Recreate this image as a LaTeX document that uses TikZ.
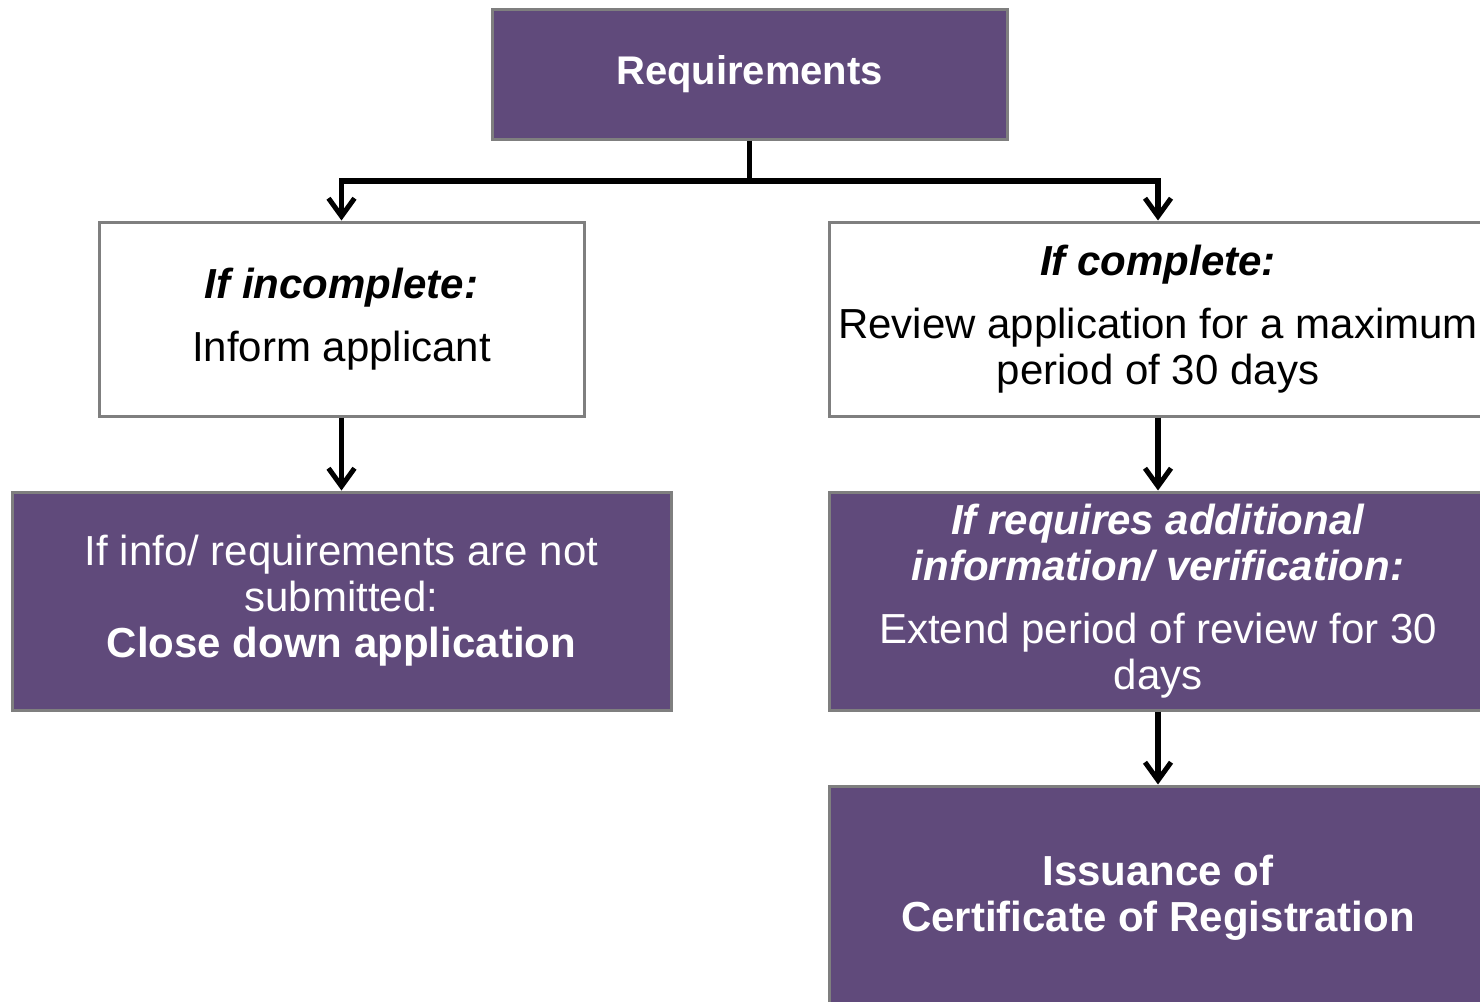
\documentclass[tikz,border=0pt]{standalone}
\usepackage{fontspec}
\setmainfont{Liberation Sans}
\usetikzlibrary{arrows.meta}
\definecolor{boxpurple}{HTML}{604A7B}
\definecolor{boxgray}{HTML}{7F7F7F}
\tikzset{every picture/.style={line width=5.5pt}}
\tikzstyle{wbox}=[draw=boxgray,line width=3pt,fill=white,align=center,inner sep=0pt]
\tikzstyle{pbox}=[draw=boxgray,line width=3pt,fill=boxpurple,text=white,align=center,inner sep=0pt]
\tikzstyle{arr}=[-{Straight Barb[length=18pt,width=26pt,line width=5pt]},line width=5.5pt]

\begin{document}
\begin{tikzpicture}
  [x=1pt,y=-1pt,font=\fontsize{42}{46}\selectfont]
  \useasboundingbox (0,0) rectangle (1480,1001);
  \node [style=pbox,minimum width=515pt,minimum height=130pt] (n1) at (749.5,74) {\fontsize{40}{46}\selectfont\textbf{Requirements}};
  \node [style=wbox,minimum width=485pt,minimum height=194pt] (n2) at (341.5,319) {\textbf{\textit{If incomplete:}}\\[17pt] Inform applicant};
  \node [style=wbox,minimum width=658pt,minimum height=194pt] (n3) at (1158,319) {\textbf{\textit{If complete:}}\\[17pt] Review application for a maximum\\ period of 30 days};
  \node [style=pbox,minimum width=659pt,minimum height=218pt] (n4) at (341.5,601) {If info/ requirements are not\\ submitted:\\ \textbf{Close down application}};
  \node [style=pbox,minimum width=658pt,minimum height=218pt] (n5) at (1158,601) {\textbf{\textit{If requires additional}}\\ \textbf{\textit{information/ verification:}}\\[17pt] Extend period of review for 30\\ days};
  \node [style=pbox,minimum width=658pt,minimum height=224pt] (n6) at (1158,898) {\textbf{Issuance of}\\ \textbf{Certificate of Registration}};
  \coordinate (j) at (749.5,181);
\draw (n1) -- (j);
\draw[arr] (j) -| (n2);
\draw[arr] (j) -| (n3);
\path[arr]
(n2) edge (n4)
(n3) edge (n5)
(n5) edge (n6);
\end{tikzpicture}
\end{document}
